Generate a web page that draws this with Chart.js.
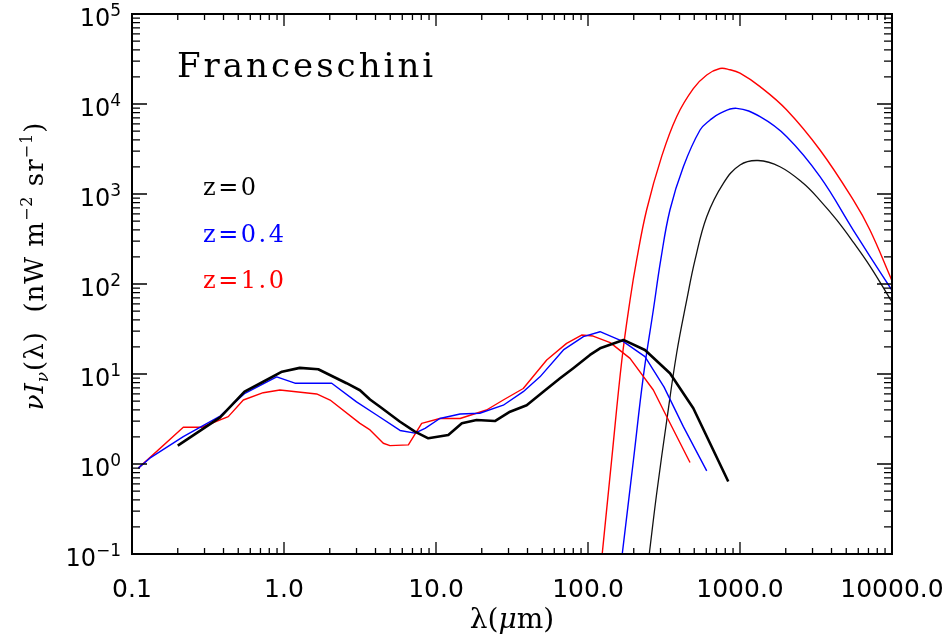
<!DOCTYPE html>
<html>
<head>
<meta charset="utf-8">
<script src="https://cdn.jsdelivr.net/npm/chart.js@4"></script>
<style>
  body { margin: 0; background: #fff; }
</style>
</head>
<body>
<canvas id="sed" width="951" height="641"></canvas>
<script>
// galaxy SED (wavelength in micron, nuI_nu in nW m^-2 sr^-1)
const sedLamZ0 = [0.2, 0.38, 0.55, 0.73, 0.97, 1.27, 1.68, 2.58, 3.16, 3.68, 4.28, 5.8, 7.27, 8.9, 12.05, 14.8, 18.5, 24.4, 30.7, 39.5, 50.8, 65.5, 80, 103, 120, 171, 237, 346, 493, 837];
const sedZ0 = [1.6, 3.3, 6.36, 8.2, 10.6, 11.7, 11.3, 7.9, 6.6, 5.2, 4.33, 2.95, 2.29, 1.93, 2.1, 2.83, 3.08, 3.0, 3.81, 4.5, 6.36, 8.96, 11.6, 16.3, 19.3, 23.9, 18.5, 10.2, 4.16, 0.64];

const sedLamZ04 = [0.11, 0.131, 0.2175, 0.38, 0.553, 0.895, 1.18, 2.06, 3.0, 4.07, 5.8, 7.27, 8.47, 10.6, 14.4, 19.4, 27.7, 37.5, 48.3, 68.9, 93.3, 120, 171, 237, 316, 424, 604];
const sedZ04 = [0.9, 1.16, 2.01, 3.41, 6.1, 9.3, 7.9, 7.9, 4.9, 3.5, 2.36, 2.2, 2.49, 3.2, 3.59, 3.66, 4.5, 6.36, 9.3, 18.5, 26, 29.5, 22.9, 15.6, 7.2, 2.6, 0.84];

const sedLamZ1 = [0.11, 0.2175, 0.287, 0.43, 0.54, 0.73, 0.94, 1.64, 2.01, 3.16, 3.68, 4.5, 4.98, 6.58, 8.05, 10.6, 14.4, 21.5, 27.7, 37.5, 53.5, 72.3, 90.8, 108, 140, 189, 269, 321, 469];
const sedZ1 = [0.9, 2.56, 2.56, 3.36, 5.14, 6.2, 6.64, 6.0, 5.14, 2.83, 2.39, 1.7, 1.6, 1.63, 2.83, 3.2, 3.2, 3.98, 5.14, 6.9, 14.3, 21.9, 27.1, 26.4, 22.3, 14.9, 6.64, 3.66, 1.04];

// blackbody peaks
const bbLamZ0 = [253, 283, 330, 383, 446, 506, 604, 777, 1000, 1313, 1832, 2608, 3357, 4325, 5559, 7161, 9950];
const bbZ0 = [0.1, 0.47, 3.08, 17, 66, 185, 560, 1315, 2100, 2355, 2010, 1315, 850, 515, 292, 158, 64];

const bbLamZ04 = [168, 199, 231, 269, 301, 346, 424, 546, 636, 738, 951, 1355, 2030, 3360, 5560, 7160, 9950];
const bbZ04 = [0.1, 1.1, 9.3, 51.4, 185, 664, 2010, 5140, 6640, 7870, 8950, 7230, 4330, 1560, 398, 203, 86];

const bbLamZ1 = [124, 143, 167, 189, 209, 243, 305, 383, 493, 604, 738, 859, 1000, 1355, 2030, 3360, 5560, 7160, 9950];
const bbZ1 = [0.1, 1.1, 14.3, 66, 185, 664, 2600, 7230, 14800, 21000, 24800, 24000, 22000, 15600, 8580, 3080, 858, 398, 111];

const xTickValues = [0.1, 1, 10, 100, 1000, 10000];
const xTickLabels = ['0.1', '1.0', '10.0', '100.0', '1000.0', '10000.0'];
const yTickValues = [0.1, 1, 10, 100, 1000, 10000, 100000];
const yTickExps = ['\u22121', '0', '1', '2', '3', '4', '5'];

const seriesNames = ['z=0', 'z=0.4', 'z=1.0'];
const seriesColors = ['#000000', '#0000ff', '#ff0000'];

function pts(xs, ys) {
  return xs.map((x, i) => ({ x: x, y: ys[i] }));
}

function line(xs, ys, color, width, tension) {
  return {
    data: pts(xs, ys),
    showLine: true,
    borderColor: color,
    borderWidth: width,
    borderJoinStyle: 'round',
    pointRadius: 0,
    fill: false,
    tension: tension
  };
}

const datasets = [
  line(sedLamZ0, sedZ0, seriesColors[0], 2.6, 0),
  line(sedLamZ04, sedZ04, seriesColors[1], 1.4, 0),
  line(sedLamZ1, sedZ1, seriesColors[2], 1.4, 0),
  line(bbLamZ0, bbZ0, '#111111', 1.3, 0.4),
  line(bbLamZ04, bbZ04, seriesColors[1], 1.4, 0.4),
  line(bbLamZ1, bbZ1, seriesColors[2], 1.4, 0.4)
];

// draw text in pieces: [text, font, dy]
function runs(ctx, parts, x, y) {
  let cx = x;
  parts.forEach(p => {
    ctx.font = p[1];
    ctx.fillText(p[0], cx, y + (p[2] || 0));
    cx += ctx.measureText(p[0]).width;
  });
  return cx - x;
}
function runsWidth(ctx, parts) {
  let w = 0;
  parts.forEach(p => { ctx.font = p[1]; w += ctx.measureText(p[0]).width; });
  return w;
}

// box, inward ticks on all four sides, labels and annotations
const frame = {
  id: 'frame',
  afterDraw(chart) {
    const ctx = chart.ctx, a = chart.chartArea;
    const xs = chart.scales.x, ys = chart.scales.y;
    ctx.save();
    ctx.strokeStyle = '#000';
    ctx.fillStyle = '#000';

    ctx.lineWidth = 1.3;
    ctx.beginPath();
    for (let e = -1; e <= 4; e++) {
      for (let m = 1; m <= 9; m++) {
        const v = m * Math.pow(10, e);
        if (v <= 10000 * 1.001) {
          const px = xs.getPixelForValue(v);
          const len = m === 1 ? 12 : 6;
          ctx.moveTo(px, a.bottom); ctx.lineTo(px, a.bottom - len);
          ctx.moveTo(px, a.top); ctx.lineTo(px, a.top + len);
        }
        const py = ys.getPixelForValue(v);
        const ylen = m === 1 ? 15 : 8;
        ctx.moveTo(a.left, py); ctx.lineTo(a.left + ylen, py);
        ctx.moveTo(a.right, py); ctx.lineTo(a.right - ylen, py);
      }
    }
    ctx.stroke();
    ctx.lineWidth = 2;
    ctx.strokeRect(a.left, a.top, a.right - a.left, a.bottom - a.top);

    // x tick labels
    ctx.font = '25px "DejaVu Sans"';
    ctx.textAlign = 'center';
    ctx.textBaseline = 'alphabetic';
    xTickValues.forEach((v, i) => {
      ctx.fillText(xTickLabels[i], xs.getPixelForValue(v), 597);
    });

    // y tick labels, 10 with a raised exponent
    ctx.textAlign = 'left';
    yTickValues.forEach((v, i) => {
      const py = ys.getPixelForValue(v);
      const parts = [['10', '24px "DejaVu Sans"', 0], [yTickExps[i], '17px "DejaVu Sans"', -10]];
      const w = runsWidth(ctx, parts) + 1;
      runs(ctx, parts, 122 - w, py + 12);
    });

    // axis titles
    const serif = '"DejaVu Serif"';
    const xt = [['\u03bb(', '28px ' + serif], ['\u03bc', 'italic 28px ' + serif], ['m)', '28px ' + serif]];
    runs(ctx, xt, (a.left + a.right) / 2 - runsWidth(ctx, xt) / 2, 628);

    const yt = [
      ['\u03bd', 'italic 26px ' + serif, 0],
      ['I', 'italic 26px ' + serif, 0],
      ['\u03bd', 'italic 17px ' + serif, 5],
      ['(\u03bb)  (nW m', '26px ' + serif, 0],
      ['\u22122', '16px ' + serif, -11],
      [' sr', '26px ' + serif, 0],
      ['\u22121', '16px ' + serif, -11],
      [')', '26px ' + serif, 0]
    ];
    ctx.save();
    ctx.translate(43, 266);
    ctx.rotate(-Math.PI / 2);
    ctx.letterSpacing = '1px';
    runs(ctx, yt, -runsWidth(ctx, yt) / 2, 0);
    ctx.restore();

    // model name and redshift key
    ctx.letterSpacing = '3px';
    ctx.font = '34px ' + serif;
    ctx.fillText('Franceschini', 177, 77);
    ctx.letterSpacing = '2.5px';
    ctx.font = '24px ' + serif;
    seriesNames.forEach((n, i) => {
      ctx.fillStyle = seriesColors[i];
      ctx.fillText(n, 203, 195 + i * 46.5);
    });
    ctx.restore();
  }
};

new Chart(document.getElementById('sed'), {
  type: 'scatter',
  data: { datasets: datasets },
  options: {
    responsive: false,
    animation: false,
    events: [],
    layout: { padding: { top: 14, right: 59, left: 0, bottom: 0 } },
    plugins: { legend: { display: false }, tooltip: { enabled: false } },
    scales: {
      x: {
        type: 'logarithmic', min: 0.1, max: 10000,
        ticks: { display: false }, grid: { display: false }, border: { display: false },
        afterFit: s => { s.height = 87; }
      },
      y: {
        type: 'logarithmic', min: 0.1, max: 100000,
        ticks: { display: false }, grid: { display: false }, border: { display: false },
        afterFit: s => { s.width = 132; }
      }
    }
  },
  plugins: [frame]
});
</script>
</body>
</html>
